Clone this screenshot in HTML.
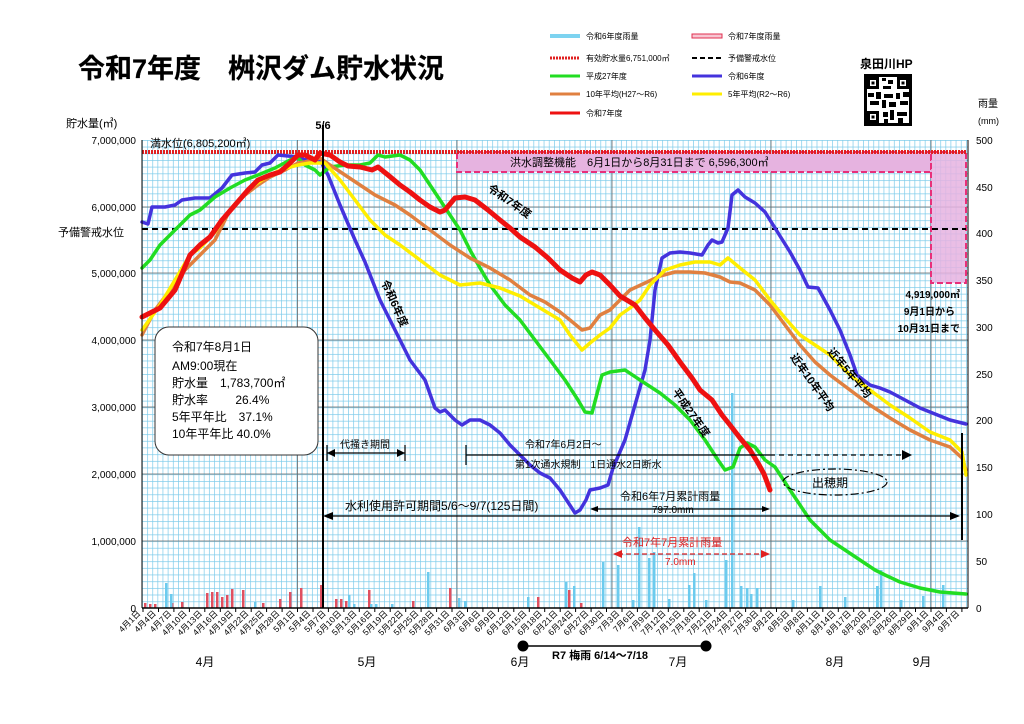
<!DOCTYPE html>
<html><head><meta charset="utf-8"><style>
body{margin:0;background:#fff}
svg{display:block;font-family:"Liberation Sans","Noto Sans CJK JP",sans-serif}
.tk text{font-size:8.5px}
</style></head><body>
<svg width="1024" height="724" viewBox="0 0 1024 724" xmlns="http://www.w3.org/2000/svg">
<defs>
<pattern id="gv" x="142" y="0" width="5.15" height="10" patternUnits="userSpaceOnUse"><line x1="0.3" y1="0" x2="0.3" y2="10" stroke="#7ccbea" stroke-width="0.8"/></pattern>
<pattern id="gh" x="0" y="140" width="10" height="6.686" patternUnits="userSpaceOnUse"><line x1="0" y1="0.3" x2="10" y2="0.3" stroke="#7ccbea" stroke-width="0.8"/></pattern>
</defs>
<rect width="1024" height="724" fill="#fff"/>
<text x="78" y="78" font-size="27" font-weight="bold" stroke="#000" stroke-width="0.2">令和7年度　桝沢ダム貯水状況</text>
<!-- legend -->
<g font-size="8">
<rect x="550" y="34" width="30" height="4" fill="#7dd3f0"/><text x="586" y="39">令和6年度雨量</text>
<rect x="692" y="34" width="30" height="4" fill="#f7c6d2" stroke="#e03050" stroke-width="1"/><text x="728" y="39">令和7年度雨量</text>
<line x1="550" y1="58" x2="580" y2="58" stroke="#e02020" stroke-width="3" stroke-dasharray="2 1"/><text x="586" y="61">有効貯水量6,751,000㎥</text>
<line x1="692" y1="58" x2="722" y2="58" stroke="#000" stroke-width="2" stroke-dasharray="5 3"/><text x="728" y="61">予備警戒水位</text>
<line x1="550" y1="76" x2="580" y2="76" stroke="#22dd22" stroke-width="3"/><text x="586" y="79">平成27年度</text>
<line x1="692" y1="76" x2="722" y2="76" stroke="#4433dd" stroke-width="3"/><text x="728" y="79">令和6年度</text>
<line x1="550" y1="94" x2="580" y2="94" stroke="#e08040" stroke-width="3"/><text x="586" y="97">10年平均(H27～R6)</text>
<line x1="692" y1="94" x2="722" y2="94" stroke="#ffee00" stroke-width="3"/><text x="728" y="97">5年平均(R2～R6)</text>
<line x1="550" y1="113" x2="580" y2="113" stroke="#ee1111" stroke-width="3"/><text x="586" y="116">令和7年度</text>
</g>
<text x="860" y="68" font-size="12" font-weight="bold">泉田川HP</text>
<g fill="#000">
<rect x="864" y="74" width="48" height="52" fill="#000"/>
<rect x="867" y="77" width="42" height="46" fill="#fff"/>
<rect x="867" y="77" width="12" height="12"/><rect x="870" y="80" width="6" height="6" fill="#fff"/><rect x="871.5" y="81.5" width="3" height="3"/>
<rect x="897" y="77" width="12" height="12"/><rect x="900" y="80" width="6" height="6" fill="#fff"/><rect x="901.5" y="81.5" width="3" height="3"/>
<rect x="867" y="111" width="12" height="12"/><rect x="870" y="114" width="6" height="6" fill="#fff"/><rect x="871.5" y="115.5" width="3" height="3"/>
<rect x="882" y="78" width="4" height="3"/><rect x="888" y="80" width="5" height="4"/><rect x="883" y="86" width="8" height="3"/>
<rect x="868" y="93" width="6" height="4"/><rect x="876" y="92" width="5" height="7"/><rect x="884" y="94" width="9" height="4"/><rect x="896" y="93" width="4" height="6"/><rect x="903" y="92" width="6" height="5"/>
<rect x="870" y="101" width="9" height="4"/><rect x="882" y="100" width="4" height="8"/><rect x="889" y="102" width="7" height="5"/><rect x="900" y="101" width="8" height="4"/>
<rect x="883" y="112" width="5" height="5"/><rect x="890" y="110" width="4" height="10"/><rect x="897" y="112" width="10" height="4"/><rect x="884" y="119" width="4" height="4"/><rect x="898" y="118" width="5" height="5"/>
</g>
<!-- plot grid -->
<rect x="142" y="140" width="826" height="468" fill="url(#gv)"/>
<rect x="142" y="140" width="826" height="468" fill="url(#gh)"/>
<g stroke="#666" stroke-width="0.8">
<line x1="142" y1="207" x2="968" y2="207"/><line x1="142" y1="273" x2="968" y2="273"/><line x1="142" y1="340" x2="968" y2="340"/><line x1="142" y1="407" x2="968" y2="407"/><line x1="142" y1="474" x2="968" y2="474"/><line x1="142" y1="541" x2="968" y2="541"/>
<line x1="297.5" y1="140" x2="297.5" y2="608"/><line x1="457" y1="140" x2="457" y2="608"/><line x1="612" y1="140" x2="612" y2="608"/><line x1="771" y1="140" x2="771" y2="608"/><line x1="931" y1="140" x2="931" y2="608"/>
</g>
<!-- flood control -->
<rect x="457" y="152" width="474" height="20" fill="#e6b3e0" stroke="#e8307a" stroke-width="2" stroke-dasharray="6 3"/>
<text x="510" y="166" font-size="11">洪水調整機能　6月1日から8月31日まで  6,596,300㎥</text>
<rect x="931" y="152" width="35" height="131" fill="#e6b3e0" fill-opacity="0.85" stroke="#e8307a" stroke-width="2" stroke-dasharray="6 3"/>
<line x1="142" y1="152" x2="966" y2="152" stroke="#e02020" stroke-width="4" stroke-dasharray="2 1"/>
<text x="150" y="147" font-size="11">満水位(6,805,200㎥)</text>
<line x1="142" y1="229" x2="966" y2="229" stroke="#000" stroke-width="2" stroke-dasharray="6 4"/>
<!-- rain bars -->
<g fill="#e05060">
<rect x="144" y="603" width="2.5" height="5"/><rect x="149" y="604" width="2.5" height="4"/><rect x="154" y="604" width="2.5" height="4"/><rect x="171" y="603" width="2.5" height="5"/><rect x="181" y="602" width="2.5" height="6"/>
<rect x="206" y="593" width="2.5" height="15"/><rect x="211" y="592" width="2.5" height="16"/><rect x="216" y="592" width="2.5" height="16"/><rect x="221" y="597" width="2.5" height="11"/><rect x="226" y="595" width="2.5" height="13"/><rect x="231" y="589" width="2.5" height="19"/><rect x="242" y="590" width="2.5" height="18"/>
<rect x="262" y="603" width="2.5" height="5"/><rect x="279" y="599" width="2.5" height="9"/><rect x="289" y="592" width="2.5" height="16"/><rect x="300" y="588" width="2.5" height="20"/><rect x="320" y="585" width="2.5" height="23"/>
<rect x="335" y="599" width="2.5" height="9"/><rect x="340" y="599" width="2.5" height="9"/><rect x="345" y="601" width="2.5" height="7"/><rect x="368" y="590" width="2.5" height="18"/><rect x="412" y="601" width="2.5" height="7"/><rect x="449" y="588" width="2.5" height="20"/>
<rect x="527" y="600" width="2.5" height="8"/><rect x="537" y="597" width="2.5" height="11"/><rect x="568" y="590" width="2.5" height="18"/><rect x="580" y="603" width="2.5" height="5"/>
</g>
<g fill="#6ccbee">
<rect x="165" y="583" width="2.5" height="25"/><rect x="170" y="594" width="2.5" height="14"/><rect x="254" y="602" width="2.5" height="6"/><rect x="348" y="595" width="2.5" height="13"/><rect x="353" y="604" width="2.5" height="4"/>
<rect x="370" y="604" width="2.5" height="4"/><rect x="375" y="604" width="2.5" height="4"/><rect x="391" y="604" width="2.5" height="4"/><rect x="427" y="572" width="2.5" height="36"/>
<rect x="458" y="598" width="2.5" height="10"/><rect x="464" y="601" width="2.5" height="7"/><rect x="527" y="597" width="2.5" height="11"/><rect x="565" y="582" width="2.5" height="26"/><rect x="573" y="586" width="2.5" height="22"/>
<rect x="602" y="562" width="2.5" height="46"/><rect x="617" y="565" width="2.5" height="43"/><rect x="632" y="600" width="2.5" height="8"/><rect x="638" y="527" width="2.5" height="81"/><rect x="648" y="558" width="2.5" height="50"/><rect x="653" y="552" width="2.5" height="56"/>
<rect x="668" y="599" width="2.5" height="9"/><rect x="688" y="585" width="2.5" height="23"/><rect x="693" y="573" width="2.5" height="35"/><rect x="705" y="600" width="2.5" height="8"/><rect x="725" y="560" width="2.5" height="48"/><rect x="731" y="393" width="2.5" height="215"/>
<rect x="740" y="586" width="2.5" height="22"/><rect x="746" y="588" width="2.5" height="20"/><rect x="750" y="594" width="2.5" height="14"/><rect x="756" y="588" width="2.5" height="20"/>
<rect x="792" y="600" width="2.5" height="8"/><rect x="819" y="586" width="2.5" height="22"/><rect x="844" y="597" width="2.5" height="11"/><rect x="876" y="586" width="2.5" height="22"/><rect x="880" y="570" width="2.5" height="38"/><rect x="900" y="600" width="2.5" height="8"/><rect x="922" y="596" width="2.5" height="12"/><rect x="942" y="585" width="2.5" height="23"/>
</g>
<!-- series -->
<g fill="none" stroke-linejoin="round" stroke-linecap="round">
<polyline stroke="#4433dd" stroke-width="3.5" points="142,222 148,224 152,207 165,207 175,205 182,200 195,198 210,198 222,188 232,175 245,173 255,172 262,165 270,163 278,155 298,157 305,160 310,158 320,160 328,175 340,205 355,240 365,262 380,300 395,330 410,360 425,380 435,408 440,412 445,410 455,420 462,425 470,420 480,420 490,425 500,433 510,445 520,455 530,465 540,473 550,478 560,490 575,513 580,510 586,500 590,490 600,488 608,485 613,468 625,440 635,405 645,370 650,340 655,290 662,258 670,253 680,252 690,253 702,255 708,245 712,240 718,243 722,242 728,228 732,195 738,190 745,197 755,203 765,212 775,228 790,252 800,270 808,287 818,288 830,310 840,330 850,355 857,375 870,385 880,388 890,392 905,400 920,408 935,414 950,420 966,424"/>
<polyline stroke="#22dd22" stroke-width="3.5" points="142,268 150,260 160,245 175,230 190,215 200,210 215,197 230,188 245,180 258,175 275,168 290,160 297,157 305,165 315,170 320,175 330,167 345,165 360,165 370,163 378,155 385,157 400,155 410,160 420,170 430,185 440,200 450,215 460,230 470,250 480,268 490,285 505,305 520,320 535,340 550,360 565,380 578,400 585,412 592,413 598,390 602,375 610,372 625,370 640,380 660,393 675,405 690,420 705,440 718,460 725,470 733,467 740,448 747,443 755,447 765,460 775,467 790,490 810,520 830,540 845,550 860,560 875,570 885,575 900,582 920,588 940,592 966,594"/>
<polyline stroke="#e08040" stroke-width="3.5" points="142,335 155,310 170,290 185,270 200,255 215,240 230,210 245,195 258,185 270,177 285,170 298,163 305,162 320,158 330,165 345,175 360,185 375,195 395,205 410,215 430,230 450,245 470,258 490,268 510,280 530,295 545,302 560,312 570,320 582,330 590,328 600,315 610,310 620,300 630,290 645,283 660,276 675,272 690,272 705,273 720,277 730,282 740,283 755,290 770,305 785,325 800,345 815,362 830,375 850,390 870,405 890,418 910,430 930,440 950,447 962,458 966,470"/>
<polyline stroke="#ffee00" stroke-width="3.5" points="142,330 160,305 175,280 190,255 200,248 215,232 230,210 250,188 265,178 280,170 298,165 310,163 325,163 340,180 355,200 370,220 385,235 400,245 420,260 440,275 460,285 480,283 500,288 520,296 540,308 560,320 570,335 582,350 590,343 600,335 610,328 620,315 630,308 640,300 650,285 665,270 680,265 695,262 710,262 720,265 728,258 740,268 755,280 770,300 785,318 800,335 815,345 830,355 850,375 870,390 890,405 910,418 930,432 950,440 962,452 966,475"/>
<polyline stroke="#ee1111" stroke-width="5" points="142,317 160,308 175,290 190,255 200,245 210,237 222,220 235,205 248,190 258,180 270,175 280,172 290,163 298,155 305,155 315,160 320,153 330,155 340,162 348,166 360,167 372,170 378,167 388,175 400,185 410,192 420,200 430,207 440,212 445,210 455,198 465,197 475,200 488,210 500,220 510,228 520,237 535,247 548,258 560,270 572,278 580,282 586,275 592,272 600,275 610,285 620,296 635,305 645,318 655,330 668,345 680,362 692,378 700,390 712,400 722,415 730,425 740,438 750,450 758,463 764,474 770,490"/>
</g>
<!-- 5/6 line -->
<line x1="323" y1="125" x2="323" y2="608" stroke="#000" stroke-width="2"/>
<text x="323" y="129" font-size="11" text-anchor="middle" font-weight="bold">5/6</text>
<!-- axes -->
<line x1="142" y1="140" x2="142" y2="608" stroke="#000"/>
<line x1="968" y1="140" x2="968" y2="608" stroke="#000"/>
<line x1="142" y1="608" x2="968" y2="608" stroke="#000" stroke-width="1.5"/>
<g font-size="10" text-anchor="end">
<text x="136" y="144">7,000,000</text><text x="136" y="211">6,000,000</text><text x="136" y="277">5,000,000</text><text x="136" y="344">4,000,000</text><text x="136" y="411">3,000,000</text><text x="136" y="478">2,000,000</text><text x="136" y="545">1,000,000</text><text x="136" y="612">0</text>
</g>
<text x="66" y="127" font-size="11">貯水量(㎥)</text>
<text x="58" y="236" font-size="11">予備警戒水位</text>
<g font-size="10">
<text x="976" y="144">500</text><text x="976" y="191">450</text><text x="976" y="237">400</text><text x="976" y="284">350</text><text x="976" y="331">300</text><text x="976" y="378">250</text><text x="976" y="424">200</text><text x="976" y="471">150</text><text x="976" y="518">100</text><text x="976" y="565">50</text><text x="976" y="612">0</text>
</g>
<text x="978" y="107" font-size="10">雨量</text><text x="978" y="124" font-size="9">(mm)</text>
<!-- right box text -->
<g font-size="10" font-weight="bold" text-anchor="end">
<text x="960" y="298">4,919,000㎥</text><text x="955" y="315">9月1日から</text><text x="960" y="332">10月31日まで</text>
</g>
<!-- info box -->
<rect x="155" y="327" width="163" height="128" rx="14" fill="#fff" stroke="#333"/>
<g font-size="12">
<text x="172" y="351">令和7年8月1日</text><text x="172" y="370">AM9:00現在</text>
<text x="172" y="387">貯水量　1,783,700㎡</text><text x="172" y="404">貯水率　　 26.4%</text><text x="172" y="421">5年平年比　37.1%</text><text x="172" y="438">10年平年比  40.0%</text>
</g>
<!-- series labels -->
<g font-size="11" font-weight="bold">
<text transform="translate(487,190) rotate(35)">令和7年度</text>
<text transform="translate(381,282) rotate(66)">令和6年度</text>
<text transform="translate(672,392) rotate(55)">平成27年度</text>
<text transform="translate(790,357) rotate(55)">近年10年平均</text>
<text transform="translate(827,352) rotate(50)">近年5年平均</text>
</g>
<!-- annotations -->
<g stroke="#000" stroke-width="1.2" fill="none">
<line x1="327" y1="453" x2="405" y2="453"/><line x1="327" y1="445" x2="327" y2="461"/><line x1="405" y1="445" x2="405" y2="461"/>
<line x1="466" y1="455" x2="770" y2="455"/><line x1="466" y1="445" x2="466" y2="465"/>
<line x1="770" y1="455" x2="905" y2="455" stroke-dasharray="5 4"/>
<line x1="330" y1="516" x2="955" y2="516"/>
<line x1="595" y1="509" x2="765" y2="509"/>
<line x1="962" y1="433" x2="962" y2="540" stroke-width="2"/>
<ellipse cx="835" cy="482" rx="52" ry="13" stroke-dasharray="8 3 2 3"/>
</g>
<g fill="#000">
<polygon points="327,453 335,449 335,457"/><polygon points="405,453 397,449 397,457"/><polygon points="912,455 902,450 902,460"/>
<polygon points="323,516 333,512 333,520"/><polygon points="960,516 950,512 950,520"/>
<polygon points="590,509 598,506 598,512"/><polygon points="770,509 762,506 762,512"/>
</g>
<g font-size="10">
<text x="340" y="448">代掻き期間</text>
<text x="525" y="448">令和7年6月2日～</text>
<text x="515" y="468">第1次通水規制　1日通水2日断水</text>
<text x="345" y="510" font-size="12">水利使用許可期間5/6～9/7(125日間)</text>
<text x="620" y="500" font-size="11">令和6年7月累計雨量</text>
<text x="652" y="513">797.0mm</text>
<text x="812" y="487" font-size="12">出穂期</text>
</g>
<g fill="#e02020" stroke="#e02020">
<line x1="618" y1="554" x2="765" y2="554" stroke-width="1.2" stroke-dasharray="5 3"/>
<polygon points="613,554 622,550 622,558" stroke="none"/><polygon points="770,554 761,550 761,558" stroke="none"/>
<text x="622" y="546" font-size="11" stroke="none">令和7年7月累計雨量</text>
<text x="665" y="565" font-size="10" stroke="none">7.0mm</text>
</g>
<!-- date tick labels -->
<g class="tk" text-anchor="end">
<text transform="translate(141,614) rotate(-45)">4月1日</text><text transform="translate(156.5,614) rotate(-45)">4月4日</text><text transform="translate(172,614) rotate(-45)">4月7日</text><text transform="translate(187.4,614) rotate(-45)">4月10日</text><text transform="translate(202.8,614) rotate(-45)">4月13日</text><text transform="translate(218.3,614) rotate(-45)">4月16日</text><text transform="translate(233.7,614) rotate(-45)">4月19日</text><text transform="translate(249.2,614) rotate(-45)">4月22日</text><text transform="translate(264.6,614) rotate(-45)">4月25日</text><text transform="translate(280.1,614) rotate(-45)">4月28日</text>
<text transform="translate(295.5,614) rotate(-45)">5月1日</text><text transform="translate(311,614) rotate(-45)">5月4日</text><text transform="translate(326.4,614) rotate(-45)">5月7日</text><text transform="translate(341.9,614) rotate(-45)">5月10日</text><text transform="translate(357.3,614) rotate(-45)">5月13日</text><text transform="translate(372.8,614) rotate(-45)">5月16日</text><text transform="translate(388.2,614) rotate(-45)">5月19日</text><text transform="translate(403.7,614) rotate(-45)">5月22日</text><text transform="translate(419.1,614) rotate(-45)">5月25日</text><text transform="translate(434.6,614) rotate(-45)">5月28日</text><text transform="translate(450,614) rotate(-45)">5月31日</text>
<text transform="translate(465.5,614) rotate(-45)">6月3日</text><text transform="translate(480.9,614) rotate(-45)">6月6日</text><text transform="translate(496.4,614) rotate(-45)">6月9日</text><text transform="translate(511.8,614) rotate(-45)">6月12日</text><text transform="translate(527.3,614) rotate(-45)">6月15日</text><text transform="translate(542.7,614) rotate(-45)">6月18日</text><text transform="translate(558.2,614) rotate(-45)">6月21日</text><text transform="translate(573.6,614) rotate(-45)">6月24日</text><text transform="translate(589.1,614) rotate(-45)">6月27日</text><text transform="translate(604.5,614) rotate(-45)">6月30日</text>
<text transform="translate(620,614) rotate(-45)">7月3日</text><text transform="translate(635.4,614) rotate(-45)">7月6日</text><text transform="translate(650.9,614) rotate(-45)">7月9日</text><text transform="translate(666.3,614) rotate(-45)">7月12日</text><text transform="translate(681.8,614) rotate(-45)">7月15日</text><text transform="translate(697.2,614) rotate(-45)">7月18日</text><text transform="translate(712.7,614) rotate(-45)">7月21日</text><text transform="translate(728.1,614) rotate(-45)">7月24日</text><text transform="translate(743.6,614) rotate(-45)">7月27日</text><text transform="translate(759,614) rotate(-45)">7月30日</text>
<text transform="translate(774.5,614) rotate(-45)">8月2日</text><text transform="translate(789.9,614) rotate(-45)">8月5日</text><text transform="translate(805.4,614) rotate(-45)">8月8日</text><text transform="translate(820.8,614) rotate(-45)">8月11日</text><text transform="translate(836.3,614) rotate(-45)">8月14日</text><text transform="translate(851.7,614) rotate(-45)">8月17日</text><text transform="translate(867.2,614) rotate(-45)">8月20日</text><text transform="translate(882.6,614) rotate(-45)">8月23日</text><text transform="translate(898.1,614) rotate(-45)">8月26日</text><text transform="translate(913.5,614) rotate(-45)">8月29日</text>
<text transform="translate(929,614) rotate(-45)">9月1日</text><text transform="translate(944.4,614) rotate(-45)">9月4日</text><text transform="translate(959.9,614) rotate(-45)">9月7日</text>
</g>
<g stroke="#000" stroke-width="1">
<path d="M143,608v4M158.5,608v4M173.9,608v4M189.4,608v4M204.8,608v4M220.3,608v4M235.7,608v4M251.2,608v4M266.6,608v4M282.1,608v4M297.5,608v4M313,608v4M328.4,608v4M343.9,608v4M359.3,608v4M374.8,608v4M390.2,608v4M405.7,608v4M421.1,608v4M436.6,608v4M452,608v4M467.5,608v4M482.9,608v4M498.4,608v4M513.8,608v4M529.3,608v4M544.7,608v4M560.2,608v4M575.6,608v4M591.1,608v4M606.5,608v4M622,608v4M637.4,608v4M652.9,608v4M668.3,608v4M683.8,608v4M699.2,608v4M714.7,608v4M730.1,608v4M745.6,608v4M761,608v4M776.5,608v4M791.9,608v4M807.4,608v4M822.8,608v4M838.3,608v4M853.7,608v4M869.2,608v4M884.6,608v4M900.1,608v4M915.5,608v4M931,608v4M946.4,608v4M961.9,608v4"/>
</g>
<!-- months -->
<g font-size="12" text-anchor="middle">
<text x="205" y="666">4月</text><text x="367" y="666">5月</text><text x="520" y="666">6月</text><text x="678" y="666">7月</text><text x="835" y="666">8月</text><text x="922" y="666">9月</text>
</g>
<line x1="523" y1="646" x2="706" y2="646" stroke="#000" stroke-width="1.5"/>
<circle cx="523" cy="646" r="5.5"/><circle cx="706" cy="646" r="5.5"/>
<text x="552" y="659" font-size="11" font-weight="bold">R7 梅雨  6/14〜7/18</text>
</svg>
</body></html>
